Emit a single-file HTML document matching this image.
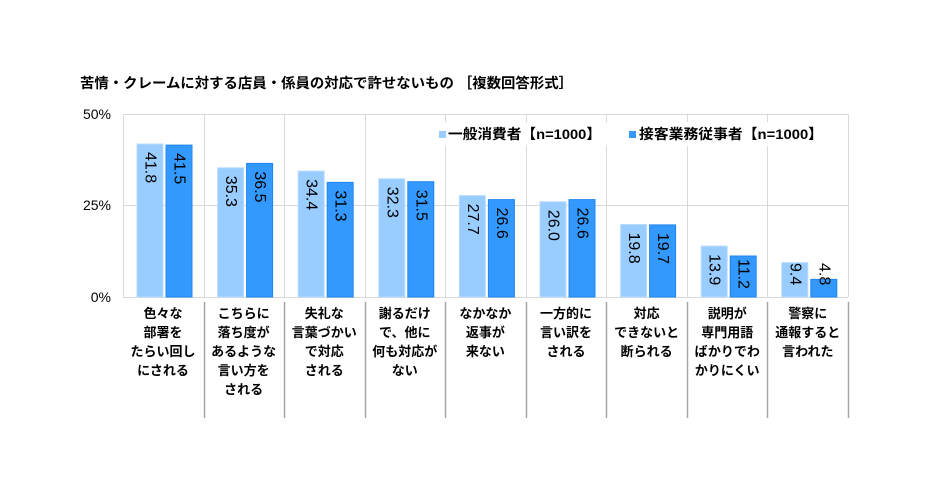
<!DOCTYPE html><html><head><meta charset="utf-8"><style>body{margin:0;background:#fff}svg{display:block}text{font-family:"Liberation Sans","Noto Sans CJK JP",sans-serif}</style></head><body>
<svg width="940" height="492" xmlns="http://www.w3.org/2000/svg">
<rect width="940" height="492" fill="#fff"/>
<text x="80" y="88" font-size="14" font-weight="bold" fill="#000" textLength="493" lengthAdjust="spacingAndGlyphs">苦情・クレームに対する店員・係員の対応で許せないもの ［複数回答形式］</text>
<g stroke="#d9d9d9" stroke-width="1">
<line x1="123" y1="114.5" x2="848" y2="114.5"/>
<line x1="123" y1="205.5" x2="848" y2="205.5"/>
<line x1="123" y1="297.5" x2="848" y2="297.5"/>
<line x1="123.5" y1="114" x2="123.5" y2="297"/>
<line x1="204.5" y1="114" x2="204.5" y2="297"/><line x1="284.5" y1="114" x2="284.5" y2="297"/><line x1="365.5" y1="114" x2="365.5" y2="297"/><line x1="445.5" y1="114" x2="445.5" y2="297"/><line x1="526.5" y1="114" x2="526.5" y2="297"/><line x1="606.5" y1="114" x2="606.5" y2="297"/><line x1="687.5" y1="114" x2="687.5" y2="297"/><line x1="767.5" y1="114" x2="767.5" y2="297"/><line x1="848.5" y1="114" x2="848.5" y2="297"/>
</g>
<g stroke="#a6a6a6" stroke-width="1.5">
<line x1="204.5" y1="302" x2="204.5" y2="418"/><line x1="284.5" y1="302" x2="284.5" y2="418"/><line x1="365.5" y1="302" x2="365.5" y2="418"/><line x1="445.5" y1="302" x2="445.5" y2="418"/><line x1="526.5" y1="302" x2="526.5" y2="418"/><line x1="606.5" y1="302" x2="606.5" y2="418"/><line x1="687.5" y1="302" x2="687.5" y2="418"/><line x1="767.5" y1="302" x2="767.5" y2="418"/><line x1="848.5" y1="302" x2="848.5" y2="418"/>
</g>
<g font-size="14" text-anchor="end" fill="#000">
<text x="111" y="119">50%</text><text x="111" y="210">25%</text><text x="111" y="302">0%</text>
</g>
<rect x="436" y="122" width="400" height="24" fill="#fff"/>
<rect x="439" y="131" width="7" height="7" fill="#99ccff"/>
<text x="448" y="139" font-size="14" font-weight="bold" textLength="153" lengthAdjust="spacingAndGlyphs">一般消費者【n=1000】</text>
<rect x="629" y="131" width="7" height="7" fill="#3399ff"/>
<text x="639" y="139" font-size="14" font-weight="bold" textLength="184" lengthAdjust="spacingAndGlyphs">接客業務従事者【n=1000】</text>

<g fill="#99ccff" stroke="#b8dcff">
<rect x="137" y="144.0" width="26" height="153.0"/>
<rect x="217.6" y="167.8" width="26" height="129.2"/>
<rect x="298.2" y="171.1" width="26" height="125.9"/>
<rect x="378.8" y="178.8" width="26" height="118.2"/>
<rect x="459.4" y="195.6" width="26" height="101.4"/>
<rect x="540" y="201.8" width="26" height="95.2"/>
<rect x="620.6" y="224.5" width="26" height="72.5"/>
<rect x="701.2" y="246.1" width="26" height="50.9"/>
<rect x="781.8" y="262.6" width="26" height="34.4"/>
</g>
<g fill="#3399ff" stroke="#1f87ee">
<rect x="166" y="145.1" width="26" height="151.9"/>
<rect x="246.6" y="163.4" width="26" height="133.6"/>
<rect x="327.2" y="182.4" width="26" height="114.6"/>
<rect x="407.8" y="181.7" width="26" height="115.3"/>
<rect x="488.4" y="199.6" width="26" height="97.4"/>
<rect x="569" y="199.6" width="26" height="97.4"/>
<rect x="649.6" y="224.9" width="26" height="72.1"/>
<rect x="730.2" y="256.0" width="26" height="41.0"/>
<rect x="810.8" y="279.4" width="26" height="17.6"/>
</g>
<g font-size="16" fill="#000" dominant-baseline="central">
<text transform="translate(150,152) rotate(90)">41.8</text>
<text transform="translate(230.6,175.8) rotate(90)">35.3</text>
<text transform="translate(311.2,179.1) rotate(90)">34.4</text>
<text transform="translate(391.8,186.8) rotate(90)">32.3</text>
<text transform="translate(472.4,203.6) rotate(90)">27.7</text>
<text transform="translate(553,209.8) rotate(90)">26.0</text>
<text transform="translate(633.6,232.5) rotate(90)">19.8</text>
<text transform="translate(714.2,254.1) rotate(90)">13.9</text>
<text transform="translate(794.8,263) rotate(90)">9.4</text>
<text transform="translate(179,153.1) rotate(90)">41.5</text>
<text transform="translate(259.6,171.4) rotate(90)">36.5</text>
<text transform="translate(340.2,190.4) rotate(90)">31.3</text>
<text transform="translate(420.8,189.7) rotate(90)">31.5</text>
<text transform="translate(501.4,207.6) rotate(90)">26.6</text>
<text transform="translate(582,207.6) rotate(90)">26.6</text>
<text transform="translate(662.6,232.9) rotate(90)">19.7</text>
<text transform="translate(743.2,259) rotate(90)">11.2</text>
<text transform="translate(823.8,263) rotate(90)">4.8</text>
</g>
<g font-size="13" font-weight="bold" text-anchor="middle" fill="#000">
<text x="163" y="318">色々な</text><text x="163" y="337">部署を</text><text x="163" y="356">たらい回し</text><text x="163" y="375">にされる</text>
<text x="243.6" y="318">こちらに</text><text x="243.6" y="337">落ち度が</text><text x="243.6" y="356">あるような</text><text x="243.6" y="375">言い方を</text><text x="243.6" y="394">される</text>
<text x="324.2" y="318">失礼な</text><text x="324.2" y="337">言葉づかい</text><text x="324.2" y="356">で対応</text><text x="324.2" y="375">される</text>
<text x="404.8" y="318">謝るだけ</text><text x="404.8" y="337">で、他に</text><text x="404.8" y="356">何も対応が</text><text x="404.8" y="375">ない</text>
<text x="485.4" y="318">なかなか</text><text x="485.4" y="337">返事が</text><text x="485.4" y="356">来ない</text>
<text x="566" y="318">一方的に</text><text x="566" y="337">言い訳を</text><text x="566" y="356">される</text>
<text x="646.6" y="318">対応</text><text x="646.6" y="337">できないと</text><text x="646.6" y="356">断られる</text>
<text x="727.2" y="318">説明が</text><text x="727.2" y="337">専門用語</text><text x="727.2" y="356">ばかりでわ</text><text x="727.2" y="375">かりにくい</text>
<text x="807.8" y="318">警察に</text><text x="807.8" y="337">通報すると</text><text x="807.8" y="356">言われた</text>
</g>
</svg></body></html>
